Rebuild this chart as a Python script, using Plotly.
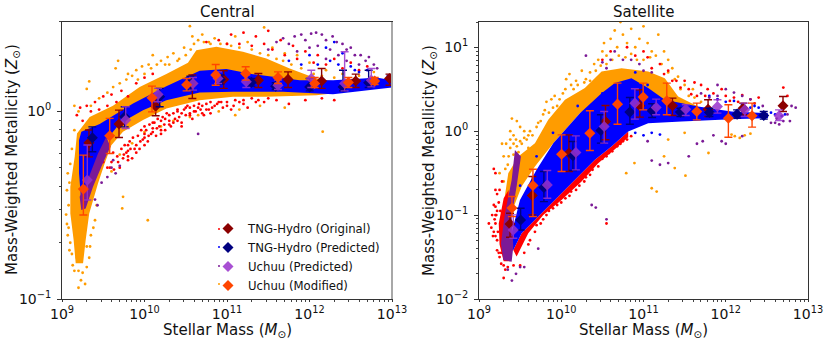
import plotly.graph_objects as go

# every value is log10: (stellar mass, metallicity)
series_names = ["TNG-Hydro (Original)", "TNG-Hydro (Predicted)", "Uchuu (Predicted)", "Uchuu (Modified)"]

# binned means with error bars, central panel
central_orig_m = [9.327, 9.691, 10.135, 10.58, 10.96, 11.38, 11.74, 12.147, 12.56, 12.97]
central_orig_z = [-.167, -.067, .028, .149, .171, .167, .171, .162, .162, .176]
central_orig_hi = [-.099, .007, .087, .194, .217, .202, .211, .229, .199, .199]
central_orig_lo = [-.242, -.139, -.023, .069, .123, .128, .128, .123, .128, .14]

central_pred_m = [9.368, 9.76, 10.184, 10.556, 10.919, 11.295, 11.59, 12.002, 12.406, 12.717]
central_pred_z = [-.14, -.028, .078, .153, .171, .155, .135, .131, .131, .153]
central_pred_hi = [-.082, .025, .123, .188, .194, .176, .153, .176, .22, .22]
central_pred_lo = [-.215, -.082, .025, .114, .146, .135, .117, .11, .11, .128]

central_uchuu_m = [9.307, 9.772, 10.164, 10.588, 10.891, 11.234, 11.618, 12.022, 12.426, 12.749]
central_uchuu_z = [-.366, -.046, .091, .149, .176, .158, .14, .176, .149, .167]
central_uchuu_hi = [-.179, .025, .123, .181, .211, .194, .167, .22, .318, .229]
central_uchuu_lo = [-.472, -.091, .052, .114, .149, .128, .117, .128, .11, .131]

central_mod_m = [9.259, 9.578, 10.091, 10.511, 10.863, 11.226, 11.618, 12.063, 12.471, 12.79]
central_mod_z = [-.414, -.13, .073, .142, .195, .202, .181, .149, .155, .162]
central_mod_hi = [-.233, -.037, .135, .176, .25, .238, .211, .181, .181, .181]
central_mod_lo = [-.552, -.224, -.002, .11, .14, .167, .149, .128, .128, .144]

# binned means with error bars, satellite panel
sat_orig_m = [9.377, 9.648, 10.093, 10.538, 10.955, 11.352, 11.785, 12.211, 12.696]
sat_orig_z = [-1.105, -.767, -.262, .115, .302, .302, .262, .274, .302]
sat_orig_hi = [-.978, -.541, -.044, .306, .493, .394, .374, .334, .414]
sat_orig_lo = [-1.264, -.998, -.481, -.103, .167, .187, .175, .195, .235]

sat_pred_m = [9.506, 9.789, 10.142, 10.482, 10.834, 11.105, 11.449, 11.802, 12.138, 12.462]
sat_pred_z = [-1.058, -.672, -.294, .008, .227, .243, .227, .223, .203, .187]
sat_pred_hi = [-.918, -.481, -.123, .195, .402, .326, .274, .274, .254, .235]
sat_pred_lo = [-1.177, -.839, -.469, -.143, .083, .163, .175, .175, .155, .143]

sat_uchuu_m = [9.417, 9.83, 10.178, 10.522, 10.895, 11.154, 11.514, 11.899, 12.231, 12.648]
sat_uchuu_z = [-1.177, -.64, -.254, .056, .334, .282, .262, .294, .254, .183]
sat_uchuu_hi = [-.998, -.469, -.056, .235, .505, .382, .314, .374, .334, .254]
sat_uchuu_lo = [-1.276, -.799, -.461, -.143, .143, .195, .187, .215, .175, .127]

sat_mod_m = [9.401, 9.656, 10.004, 10.348, 10.684, 10.996, 11.283, 11.648, 12.032, 12.32]
sat_mod_z = [-.915, -.648, -.274, -.024, .322, .406, .362, .235, .155, .183]
sat_mod_hi = [-.779, -.453, -.044, .243, .573, .573, .573, .334, .314, .334]
sat_mod_lo = [-1.018, -1.018, -.481, -.231, .083, .254, .195, .135, -.072, .048]

# outlines of the regions where the galaxies overlap into solid colour
central_orange_area = [(9.166, -.81), (9.141, -.686), (9.101, -.544), (9.101, -.401), (9.154, -.242), (9.182, -.117),
                       (9.335, -.03), (9.618, .03), (9.941, .13), (10.265, .2), (10.527, .26), (10.628, .327),
                       (10.871, .345), (11.194, .318), (11.477, .282), (11.76, .229), (12.083, .176), (12.487, .149),
                       (12.81, .149), (12.81, .123), (12.083, .087), (11.477, .078), (11.073, .078), (10.669, .06),
                       (10.265, .016), (9.982, -.046), (9.739, -.108), (9.598, -.18), (9.517, -.277), (9.436, -.384),
                       (9.33, -.544), (9.287, -.686), (9.255, -.81)]
central_blue_area = [(9.234, -.481), (9.206, -.33), (9.206, -.153), (9.234, -.108), (9.457, -.067), (9.861, .043),
                     (10.265, .135), (10.669, .217), (10.992, .226), (11.315, .199), (11.881, .167), (12.285, .167),
                     (12.648, .176), (12.81, .181), (13, .167), (13, .128), (12.285, .092), (11.679, .105),
                     (11.073, .105), (10.669, .101), (10.265, .06), (9.982, .007), (9.699, -.064), (9.537, -.153),
                     (9.436, -.242), (9.335, -.366), (9.275, -.455)]
central_purple_area = [(9.214, -.455), (9.234, -.526), (9.287, -.517), (9.376, -.401), (9.477, -.295), (9.586, -.188),
                       (9.537, -.135), (9.436, -.224), (9.327, -.348)]

sat_orange_area = [(9.283, -.978), (9.356, -.501), (9.478, -.302), (9.68, -.143), (9.842, .135), (10.045, .374),
                   (10.287, .513), (10.49, .712), (10.733, .751), (11.057, .712), (11.259, .632), (11.421, .414),
                   (11.664, .294), (11.462, .294), (11.057, .414), (10.652, .493), (10.227, .215), (9.903, -.143),
                   (9.68, -.421), (9.518, -.66), (9.377, -1.018)]
sat_red_area = [(9.457, -1.495), (9.599, -1.217), (9.781, -.998), (10.004, -.819), (10.247, -.6), (10.449, -.382),
                (10.652, -.215), (10.814, -.072), (10.814, -.004), (10.611, -.183), (10.409, -.342), (10.206, -.541),
                (9.964, -.779), (9.721, -1.018), (9.518, -1.217), (9.417, -1.416)]
sat_red_left_area = [(9.3, -1.55), (9.25, -1.35), (9.24, -1.1), (9.3, -.8), (9.36, -.7), (9.36, -1.0), (9.38, -1.43),
                     (9.38, -1.55)]
sat_blue_area = [(9.377, -1.435), (9.397, -1.217), (9.498, -.819), (9.7, -.461), (9.903, -.143), (10.227, .215),
                 (10.49, .453), (10.652, .573), (10.854, .632), (11.057, .513), (11.259, .374), (11.664, .294),
                 (12.069, .235), (12.514, .215), (12.514, .155), (12.069, .143), (11.462, .115), (11.057, .095),
                 (10.814, -.004), (10.611, -.183), (10.409, -.342), (10.206, -.541), (9.964, -.779), (9.721, -1.018),
                 (9.518, -1.217), (9.417, -1.416)]
sat_purple_area = [(9.296, -1.535), (9.267, -1.336), (9.316, -.978), (9.397, -.581), (9.437, -.223), (9.51, -.302),
                   (9.457, -.66), (9.397, -1.018), (9.417, -1.376), (9.397, -1.555)]

# single galaxies outside the solid regions
central_orange_pts = [(9.2, -.94), (9.23, -.9), (9.28, -.92), (9.15, -.85), (9.2, -.85), (9.25, -.86), (9.3, -.83),
                      (9.33, -.78), (9.12, -.76), (9.18, -.78), (9.3, -.72), (9.1, -.7), (9.07, -.66), (9.35, -.66),
                      (9.06, -.6), (9.05, -.55), (9.08, -.5), (9.06, -.42), (9.4, -.58), (9.42, -.5), (9.07, -.33),
                      (9.1, -.28), (9.12, -.2), (9.15, -.1), (9.15, .03), (9.3, .12), (9.33, .16), (9.65, .23),
                      (9.68, .27), (9.8, .2), (9.9, .22), (9.97, .24), (10.05, .25), (10.1, .3), (10.2, .27),
                      (10.28, .29), (10.35, .31), (10.42, .28), (10.48, .34), (10.55, .455), (10.58, .4), (10.65, .38),
                      (10.7, .41), (10.78, .37), (10.85, .39), (11, .36), (11.1, .4), (11.25, .37), (11.45, .448),
                      (11.55, .34), (11.7, .31), (11.85, .3), (12.0, .26), (12.2, .22), (12.4, .2), (12.6, .19),
                      (12.78, .21), (9.6, -.32), (9.7, -.23), (9.85, -.17), (10.0, -.11), (10.2, -.08), (10.35, -.05),
                      (10.55, -.03), (10.65, -.02), (10.9, .0), (11.1, -.02), (11.15, .01), (11.4, .03), (11.7, .02),
                      (12.16, -.108), (9.74, -.455), (9.73, -.517), (10.04, -.58), (9.2, 0), (9.35, .03), (9.45, .07),
                      (9.55, .1), (9.62, .13), (9.7, .15), (9.78, .17), (9.85, .19), (9.92, .17), (10, .2), (10.08, .23),
                      (10.15, .25), (10.25, .25), (10.3, .25), (10.4, .27), (10.5, .3), (10.56, .33), (10.6, .36),
                      (10.72, .37), (10.8, .36), (10.92, .36), (11.05, .35), (11.15, .34), (11.3, .33), (11.4, .31),
                      (11.5, .3), (11.6, .28), (11.68, .27), (11.78, .25), (11.9, .23), (12.05, .2), (12.15, .19),
                      (12.3, .18), (9.13, -.82), (9.09, -.74), (9.08, -.62), (9.09, -.38), (9.38, -.62), (9.34, -.72)]
central_red_pts = [(9.45, -.3), (9.5, -.27), (9.55, -.3), (9.6, -.27), (9.62, -.22), (9.68, -.27), (9.72, -.2),
                   (9.78, -.22), (9.82, -.16), (9.88, -.2), (9.92, -.13), (9.98, -.15), (10.02, -.1), (10.08, -.12),
                   (10.12, -.06), (10.18, -.08), (10.22, -.03), (10.3, -.05), (10.35, -.01), (10.42, -.03),
                   (10.48, .01), (10.55, -.01), (10.6, .03), (10.68, .01), (10.75, .04), (10.82, .02), (10.9, .05),
                   (11, .03), (11.1, .06), (11.2, .04), (11.3, .07), (11.45, .05), (11.6, .06), (11.75, .04),
                   (11.95, .06), (12.15, .07), (12.3, .06), (9.18, -.02), (9.22, .02), (9.25, -.05), (9.3, .03),
                   (9.35, .0), (9.4, .05), (9.45, .01), (9.5, .08), (9.55, .03), (9.6, .09), (9.66, .05), (9.72, .11),
                   (9.8, .08), (9.9, .15), (10, .18), (10.1, .2), (10.75, .37), (10.9, .38), (11, .36), (11.05, .41),
                   (11.15, .36), (11.2, .42), (11.3, .35), (11.35, .4), (11.45, .36), (11.5, .43), (11.55, .33),
                   (11.65, .38), (11.7, .3), (11.8, .35), (11.85, .28), (11.95, .32), (12.05, .26), (12.1, .3),
                   (12.2, .25), (12.3, .28), (12.4, .23), (12.5, .26), (12.6, .22), (12.7, .24), (9.58, -.3),
                   (9.63, -.31), (9.67, -.24), (9.7, -.3), (9.74, -.25), (9.76, -.18), (9.8, -.24), (9.83, -.2),
                   (9.86, -.14), (9.9, -.18), (9.94, -.2), (9.96, -.1), (10, -.14), (10.04, -.16), (10.06, -.07),
                   (10.1, -.09), (10.14, -.13), (10.16, -.04), (10.2, -.1), (10.24, -.07), (10.27, -.01), (10.32, -.08),
                   (10.37, -.04), (10.4, .01), (10.45, -.06), (10.5, -.02), (10.52, .03), (10.58, -.04), (10.62, .0),
                   (10.66, .04), (10.72, -.02), (10.78, .01), (10.85, .03), (10.95, .02), (11.05, .01), (11.15, .05),
                   (11.25, .02), (11.38, .06), (9.8, -.18), (9.8, -.21), (9.8, -.26), (9.75, -.23), (9.85, -.25),
                   (9.9, -.22), (9.95, -.16), (10, -.08), (10, -.12), (10, -.18), (10.05, -.13), (10.1, -.06),
                   (10.1, -.11), (10.15, -.09), (10.2, -.05), (10.2, -.12), (10.25, -.04), (10.25, -.1), (10.3, -.02),
                   (10.3, -.07), (10.35, -.06), (10.4, 0), (10.4, -.05), (10.45, -.01), (10.45, -.08), (10.5, .02),
                   (10.55, .02), (10.55, -.02), (10.6, .0), (10.65, .02), (10.7, .03), (10.7, -.01), (10.75, .01),
                   (10.8, .05), (10.8, -.01), (10.88, .04), (10.93, .05), (11, .05), (11.08, .03), (11.2, .06),
                   (11.35, .05), (11.5, .07)]
central_blue_pts = [(12.0, .3), (12.1, .25), (12.2, .34), (12.25, .27), (12.35, .25), (12.4, .31), (12.5, .24),
                    (12.55, .22), (12.3, .37), (12.6, .21), (11.9, .25), (11.75, .27), (12.7, .22), (12.9, .14),
                    (12.95, .19)]
central_purple_pts = [(11.5, .33), (11.6, .37), (11.68, .39), (11.75, .36), (11.82, .4), (11.9, .41), (11.95, .38),
                      (12.02, .415), (12.08, .42), (12.15, .41), (12.2, .38), (12.28, .4), (12.33, .37), (12.4, .36),
                      (12.45, .33), (12.5, .34), (12.55, .3), (12.62, .3), (12.68, .27), (12.72, .29), (12.78, .25),
                      (12.82, .23), (12.1, .35), (12.25, .33), (12.35, .3), (12.45, .27), (12.6, .25), (12, .34),
                      (11.85, .32), (12.2, .28), (9.6, -.3), (9.65, -.33), (9.7, -.29), (9.55, -.35), (9.62, -.26),
                      (9.48, -.38), (9.4, -.47), (9.43, -.5), (10.65, -.12)]

sat_orange_pts = [(9.25, -.5), (9.3, -.3), (9.33, -.15), (9.38, .0), (9.38, -.1), (9.42, -.05), (9.45, -.1), (9.5, .05),
                  (9.55, .0), (9.46, .12), (9.52, -.15), (9.58, -.1), (9.28, -.15), (9.36, -.3), (9.42, -.28),
                  (9.48, -.25), (9.4, .15), (9.6, -.2), (9.65, -.05), (9.72, .1), (9.78, .2), (9.82, .35), (9.88, .38),
                  (9.9, .28), (9.95, .3), (10.02, .45), (10.06, .62), (10.1, .68), (10.12, .55), (10.18, .6),
                  (10.25, .72), (10.3, .62), (10.35, .7), (10.4, .8), (10.45, .85), (10.5, .95), (10.52, 1.05),
                  (10.55, .9), (10.6, 1.1), (10.65, 1.2), (10.68, 1.0), (10.72, 1.3), (10.75, 1.15), (10.8, 1.05),
                  (10.85, 1.22), (10.9, 1.0), (10.95, 1.1), (11, 1.25), (11.05, 1.05), (11.1, .95), (11.18, 1.15),
                  (11.25, .95), (11.3, .85), (11.35, .75), (11.42, .65), (11.5, .55), (11.6, .5), (10.79, -.5),
                  (11.1, -.68), (11.16, -.72), (10.89, -.38), (11.25, -.3), (11.38, -.44), (11.51, -.53), (11.79, -.26),
                  (12.17, -.08), (12.11, -.06), (12.07, -.04), (12.23, -.05), (12.3, -.03), (11.3, -.1), (11.5, -.02),
                  (9.3, -.6), (9.32, -.45), (9.35, -.4), (9.38, -.2), (9.42, -.15), (9.46, -.18), (9.5, -.12),
                  (9.55, -.08), (9.6, -.05), (9.62, 0), (9.7, .05), (9.75, .12), (9.8, .25), (9.85, .22), (9.92, .42),
                  (9.98, .38), (10.05, .5), (10.15, .5), (10.2, .55), (10.28, .58), (10.35, .6), (10.42, .72),
                  (10.48, .78), (10.55, .8), (10.62, .85), (10.7, .9), (10.78, .88), (10.85, .92), (10.92, .85),
                  (11, .85), (11.08, .88), (11.15, .9), (11.22, .8), (11.3, .7), (11.38, .62), (11.45, .5),
                  (11.55, .42), (11.62, .4), (11.7, .35)]
sat_red_pts = [(9.18, -.88), (9.2, -1), (9.15, -1.15), (9.12, -1.1), (9.17, -1.25), (9.22, -1.42), (9.25, -1.5),
               (9.22, -.75), (9.2, -.7), (9.32, -1.65), (9.3, -1.75), (9.5, -1.6), (9.55, -1.45), (9.62, -1.3),
               (9.7, -1.12), (9.78, -1.05), (9.85, -.95), (9.95, -.88), (10.05, -.8), (10.12, -.72), (10.22, -.65),
               (10.3, -.55), (10.38, -.46), (10.5, -.33), (10.58, -.26), (10.68, -.18), (10.75, -.12), (10.85, -.06),
               (10.9, .9), (11, .95), (11.05, .88), (11.2, .8), (11.3, .72), (11.4, .6), (11.5, .6), (11.55, .5),
               (11.62, .58), (11.7, .55), (11.78, .5), (11.85, .45), (11.95, .5), (12, .42), (12.1, .4), (12.2, .43),
               (12.3, .38), (12.4, .4), (12.7, .52), (12.75, .42), (10.55, -1.1), (9.18, -.45), (9.2, -.5),
               (10.6, .95), (10.8, 1.0), (10.5, .85), (9.16, -1.0), (9.2, -1.1), (9.18, -1.2), (9.22, -1.3), (9.2, -.9),
               (9.24, -.85), (9.25, -.7), (9.28, -.6), (9.3, -1.6), (9.27, -1.58), (9.35, -1.62), (9.42, -1.6),
               (9.6, -1.35), (9.68, -1.2), (9.75, -1.1), (9.82, -1.0), (9.9, -.92), (10, -.85), (10.1, -.77),
               (10.18, -.7), (10.28, -.6), (10.35, -.52), (10.45, -.42), (10.55, -.3), (10.62, -.24), (10.72, -.15),
               (10.8, -.1), (11.1, .75), (11.25, .68), (11.35, .6), (11.45, .52), (11.58, .44), (11.65, .42),
               (11.75, .42), (11.9, .38), (12.05, .36), (12.15, .35), (12.35, .33), (9.21, -1.0), (9.2, -1.25),
               (9.23, -1.2), (9.22, -.95), (9.19, -1.05), (9.24, -1.45), (9.27, -1.45), (9.26, -.95)]
sat_blue_pts = [(10.9, -.02), (11, -.05), (11.1, -.02), (11.2, -.04), (11.05, .55), (11.8, .42), (11.9, .38), (12, .35),
                (12.1, .36), (12.2, .32), (12.3, .28), (12.4, .28), (12.35, .3), (12.55, .22), (12.6, .2), (12.68, .18),
                (12.72, .2), (10.9, .7), (10.5, .45), (10.2, .3), (9.9, -.02), (9.7, -.3), (9.5, -.65)]
sat_purple_pts = [(9.35, -1.65), (9.45, -1.7), (9.5, -1.62), (9.55, -1.62), (9.4, -1.78), (9.72, -1.4), (10.37, -.88),
                  (10.42, -.91), (10.55, -1.05), (10.3, .9), (10.5, .82), (10.6, .85), (10.65, .95), (10.75, .85),
                  (10.85, .85), (10.95, .8), (10.55, .75), (11, .72), (11.1, .7), (11.9, .55), (12, .5), (12.1, .46),
                  (12.2, .42), (12.3, .38), (12.45, .3), (12.55, .1), (12.62, .15), (12.7, .12), (12.75, .2), (12.8, .3),
                  (12.85, .28), (12.78, .12), (12.65, .08), (12.6, .1), (11.8, .4), (11.9, .42), (11.7, .45),
                  (11.85, -.05), (11.95, -.12), (12, -.15), (11.1, -.35), (11.2, -.4), (11.3, -.38), (11.55, -.3),
                  (11.65, -.15), (11.05, -.12), (11.72, -.12), (12.2, -.06)]

x_ticks = [1e9, 1e10, 1e11, 1e12, 1e13]
x_tick_text = ["10<sup>9</sup>", "10<sup>10</sup>", "10<sup>11</sup>", "10<sup>12</sup>", "10<sup>13</sup>"]
central_y_ticks = [0.1, 1]
central_y_text = ["10<sup>\u22121</sup>", "10<sup>0</sup>"]
sat_y_ticks = [0.01, 0.1, 1, 10]
sat_y_text = ["10<sup>\u22122</sup>", "10<sup>\u22121</sup>", "10<sup>0</sup>", "10<sup>1</sup>"]

mark_colors = ["#8b0000", "#000080", "#9932cc", "#ff4500"]
orange, red, blue, purple = "#ff9c00", "#ff0000", "#0000ff", "#7b1a96"
FONT = "DejaVu Sans"

fig = go.Figure()


def unlog(values):
    return [10 ** v for v in values]


def add_area(area, color, xa, ya):
    fig.add_trace(go.Scatter(x=unlog([p[0] for p in area]), y=unlog([p[1] for p in area]), mode="none",
                             fill="toself", fillcolor=color, showlegend=False, hoverinfo="skip", xaxis=xa, yaxis=ya))


def add_points(pts, color, xa, ya):
    fig.add_trace(go.Scatter(x=unlog([p[0] for p in pts]), y=unlog([p[1] for p in pts]), mode="markers",
                             marker=dict(color=color, size=2.8, line=dict(width=0)),
                             showlegend=False, xaxis=xa, yaxis=ya))


def add_means(m, z, hi, lo, i, xa, ya, legend):
    y = unlog(z)
    fig.add_trace(go.Scatter(
        x=unlog(m), y=y, mode="markers", name=series_names[i], showlegend=legend,
        marker=dict(symbol="diamond", size=8.5, color=mark_colors[i], line=dict(width=0)),
        opacity=0.85 if i == 2 else 1,
        error_y=dict(type="data", symmetric=False, color=mark_colors[i], thickness=1.4, width=4,
                     array=[a - b for a, b in zip(unlog(hi), y)],
                     arrayminus=[b - a for a, b in zip(unlog(lo), y)]),
        xaxis=xa, yaxis=ya))


# central panel
add_area(central_orange_area, orange, "x", "y")
add_points(central_orange_pts, orange, "x", "y")
add_points(central_red_pts, red, "x", "y")
add_area(central_blue_area, blue, "x", "y")
add_points(central_blue_pts, blue, "x", "y")
add_area(central_purple_area, purple, "x", "y")
add_points(central_purple_pts, purple, "x", "y")
add_means(central_orig_m, central_orig_z, central_orig_hi, central_orig_lo, 0, "x", "y", True)
add_means(central_pred_m, central_pred_z, central_pred_hi, central_pred_lo, 1, "x", "y", True)
add_means(central_uchuu_m, central_uchuu_z, central_uchuu_hi, central_uchuu_lo, 2, "x", "y", True)
add_means(central_mod_m, central_mod_z, central_mod_hi, central_mod_lo, 3, "x", "y", True)

# satellite panel
add_area(sat_orange_area, orange, "x2", "y2")
add_points(sat_orange_pts, orange, "x2", "y2")
add_area(sat_red_area, red, "x2", "y2")
add_area(sat_red_left_area, red, "x2", "y2")
add_points(sat_red_pts, red, "x2", "y2")
add_area(sat_blue_area, blue, "x2", "y2")
add_points(sat_blue_pts, blue, "x2", "y2")
add_area(sat_purple_area, purple, "x2", "y2")
add_points(sat_purple_pts, purple, "x2", "y2")
add_means(sat_orig_m, sat_orig_z, sat_orig_hi, sat_orig_lo, 0, "x2", "y2", False)
add_means(sat_pred_m, sat_pred_z, sat_pred_hi, sat_pred_lo, 1, "x2", "y2", False)
add_means(sat_uchuu_m, sat_uchuu_z, sat_uchuu_hi, sat_uchuu_lo, 2, "x2", "y2", False)
add_means(sat_mod_m, sat_mod_z, sat_mod_hi, sat_mod_lo, 3, "x2", "y2", False)


def axis(domain, rng, vals, text, anchor, ticklen=4):
    return dict(type="log", domain=domain, range=rng, automargin=False, tickmode="array", tickvals=vals, ticktext=text,
                ticks="outside", ticklen=ticklen, tickwidth=1, tickcolor="#333",
                tickfont=dict(family=FONT, size=14, color="#111"),
                minor=dict(ticks="outside", ticklen=2, tickwidth=0.7, tickcolor="#444", dtick="D1"),
                showgrid=False, zeroline=False, showline=True, mirror=True, linecolor="#333", linewidth=1,
                anchor=anchor)


W, H = 830, 343


def px(x):
    return x / W


def py(y):
    return 1 - y / H


def label(text, x, y, angle=0):
    return dict(text=text, x=px(x), y=py(y), xref="paper", yref="paper", xanchor="center", yanchor="middle",
                textangle=angle, showarrow=False, font=dict(family=FONT, size=15, color="#111"))


dom_y = [py(299), py(22)]
x_title = "Stellar Mass (<i>M</i><sub>\u2299</sub>)"
y_title = "Mass-Weighted Metallicity (<i>Z</i><sub>\u2299</sub>)"

yaxis1 = axis(dom_y, [-1, 0.477], central_y_ticks, central_y_text, "x")
yaxis2 = axis(dom_y, [-2, 1.301], sat_y_ticks, sat_y_text, "x2")
yaxis1["ticklabelstandoff"] = 3
yaxis2["ticklabelstandoff"] = 3

fig.update_layout(
    width=W, height=H, margin=dict(l=0, r=0, t=0, b=0), paper_bgcolor="white", plot_bgcolor="white",
    font=dict(family=FONT, color="#111"),
    xaxis=axis([px(62), px(392)], [9, 13], x_ticks, x_tick_text, "y", ticklen=2),
    yaxis=yaxis1,
    xaxis2=axis([px(479), px(808)], [9, 13], x_ticks, x_tick_text, "y2", ticklen=2),
    yaxis2=yaxis2,
    legend=dict(x=px(208), y=py(214), xanchor="left", yanchor="top", bgcolor="rgba(0,0,0,0)",
                font=dict(family=FONT, size=11.7, color="#111")),
    annotations=[
        label("Central", 227, 12), label("Satellite", 643, 12),
        label(x_title, 227, 330), label(x_title, 643, 330),
        label(y_title, 12, 160, -90), label(y_title, 429, 160, -90),
    ],
    # grey right edge of the left panel, and the small dots of the legend keys
    shapes=[dict(type="line", xref="paper", yref="paper", x0=px(392), x1=px(392), y0=dom_y[0], y1=dom_y[1],
                 line=dict(color="#a8a8a8", width=2))]
    + [dict(type="circle", xref="paper", yref="paper", x0=px(218), x1=px(220),
            y0=py(row + 1), y1=py(row - 1), fillcolor=c, line=dict(width=0))
       for row, c in zip([229, 247, 266, 284], [red, blue, purple, orange])],
)

# drop the page's default margin so the figure fills the window
fig.write_html("out.html", config=dict(displayModeBar=False), post_script="document.body.style.margin='0';")
